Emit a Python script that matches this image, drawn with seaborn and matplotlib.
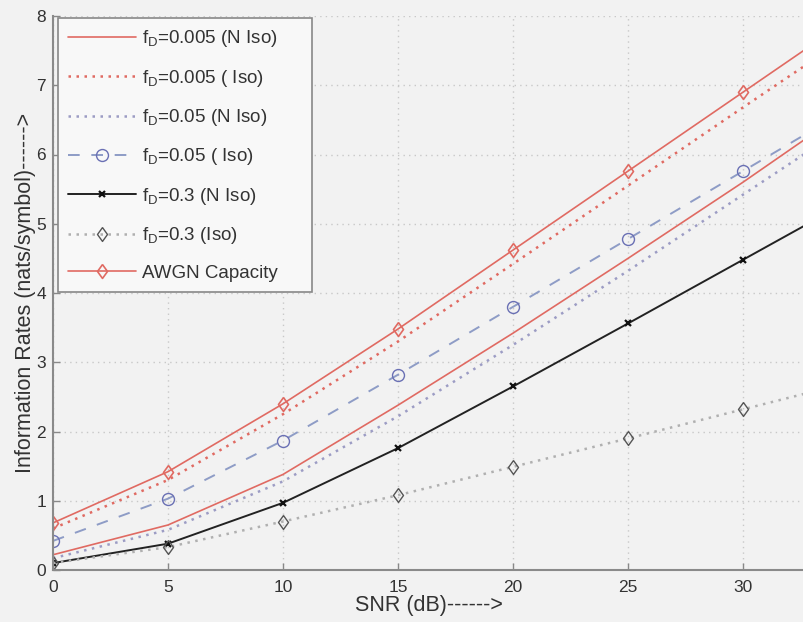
import matplotlib
matplotlib.use("Agg")
import matplotlib.pyplot as plt
import seaborn as sns
import numpy as np

snr = [0, 5, 10, 15, 20, 25, 30, 35]
fd0005_niso = [0.22, 0.65, 1.38, 2.38, 3.42, 4.50, 5.60, 6.75]
fd0005_iso = [0.60, 1.30, 2.25, 3.30, 4.42, 5.55, 6.68, 7.80]
fd005_niso = [0.17, 0.58, 1.28, 2.22, 3.25, 4.32, 5.42, 6.52]
fd005_iso = [0.42, 1.03, 1.87, 2.82, 3.80, 4.78, 5.76, 6.74]
fd03_niso = [0.10, 0.38, 0.97, 1.76, 2.65, 3.56, 4.48, 5.40]
fd03_iso = [0.10, 0.33, 0.70, 1.08, 1.49, 1.90, 2.32, 2.74]
awgn = [0.68, 1.42, 2.40, 3.48, 4.62, 5.76, 6.90, 8.04]

labels = [r"$\mathregular{f_D}$=0.005 (N Iso)", r"$\mathregular{f_D}$=0.005 ( Iso)",
          r"$\mathregular{f_D}$=0.05 (N Iso)", r"$\mathregular{f_D}$=0.05 ( Iso)",
          r"$\mathregular{f_D}$=0.3 (N Iso)", r"$\mathregular{f_D}$=0.3 (Iso)",
          "AWGN Capacity"]
xticks = [0, 5, 10, 15, 20, 25, 30]
yticks = [0, 1, 2, 3, 4, 5, 6, 7, 8]

sns.set_theme(style="ticks")
plt.rcParams['font.family'] = ['Liberation Sans', 'DejaVu Sans']
plt.rcParams['mathtext.default'] = 'regular'

bg = "#f2f2f2"
fig = plt.figure(figsize=(8.04, 6.22), dpi=100, facecolor=bg)
ax = fig.add_axes([53/804, 52/622, (804-53)/804, (570-16)/622])
ax.set_facecolor(bg)

diamond = [(0, 1), (0.72, 0), (0, -1), (-0.72, 0), (0, 1)]
red = "#e06a62"
dot = (0, (1, 2.2))
series = [
    (fd0005_niso, dict(color=red, linestyle='-', linewidth=1.2)),
    (fd0005_iso, dict(color=red, linestyle=dot, linewidth=1.8)),
    (fd005_niso, dict(color="#9c9cc4", linestyle=dot, linewidth=1.8)),
    (fd005_iso, dict(color="#8e9cc6", linestyle=(0, (6, 6)), linewidth=1.4,
                     marker='o', markersize=8.6, markerfacecolor='none',
                     markeredgecolor="#6a70b4", markeredgewidth=1.0)),
    (fd03_niso, dict(color="#222222", linestyle='-', linewidth=1.4,
                     marker='x', markersize=5, markeredgewidth=1.6,
                     markeredgecolor="#111111")),
    (fd03_iso, dict(color="#b0b0b0", linestyle=dot, linewidth=1.8,
                    marker=diamond, markersize=10, markerfacecolor='none',
                    markeredgecolor="#555555", markeredgewidth=1.0)),
    (awgn, dict(color=red, linestyle='-', linewidth=1.2,
                marker=diamond, markersize=10, markerfacecolor='none',
                markeredgecolor=red, markeredgewidth=1.2)),
]
for (vals, kw), lab in zip(series, labels):
    sns.lineplot(x=snr, y=vals, ax=ax, label=lab, **kw)

ax.set_xlim(0, (804-53)/23.0)
ax.set_ylim(0, 8)
ax.set_xticks(xticks)
ax.set_yticks(yticks)
ax.tick_params(direction='in', length=5, width=1, colors="#888888",
               labelcolor="#333333", labelsize=12.5)
ax.tick_params(axis='x', pad=7)
ax.tick_params(axis='y', pad=5)
ax.grid(True, linestyle=(0, (1, 3)), color="#c8c8c8", linewidth=1.0)
for s in ['top', 'right']:
    ax.spines[s].set_visible(False)
for s in ['left', 'bottom']:
    ax.spines[s].set_color("#8a8a8a")
    ax.spines[s].set_linewidth(1.5)

ax.set_xlabel("SNR (dB)------>", fontsize=15.5, color="#333333", labelpad=0)
ax.set_ylabel("Information Rates (nats/symbol)------>", fontsize=15.5, color="#333333", labelpad=0)

leg = ax.legend(loc='upper left', bbox_to_anchor=(58/804, 1-288/622, (312-58)/804, (288-18)/622),
                bbox_transform=fig.transFigure, borderaxespad=0, mode='expand',
                fontsize=13.5, frameon=True,
                fancybox=False, edgecolor="#888888", facecolor="#f8f8f8",
                framealpha=1, handlelength=3.6, labelspacing=0.98,
                borderpad=0.55, handletextpad=0.35)
leg.get_frame().set_linewidth(1.2)
for t in leg.get_texts():
    t.set_color("#333333")

fig.savefig("out.png", dpi=100, facecolor=bg)
